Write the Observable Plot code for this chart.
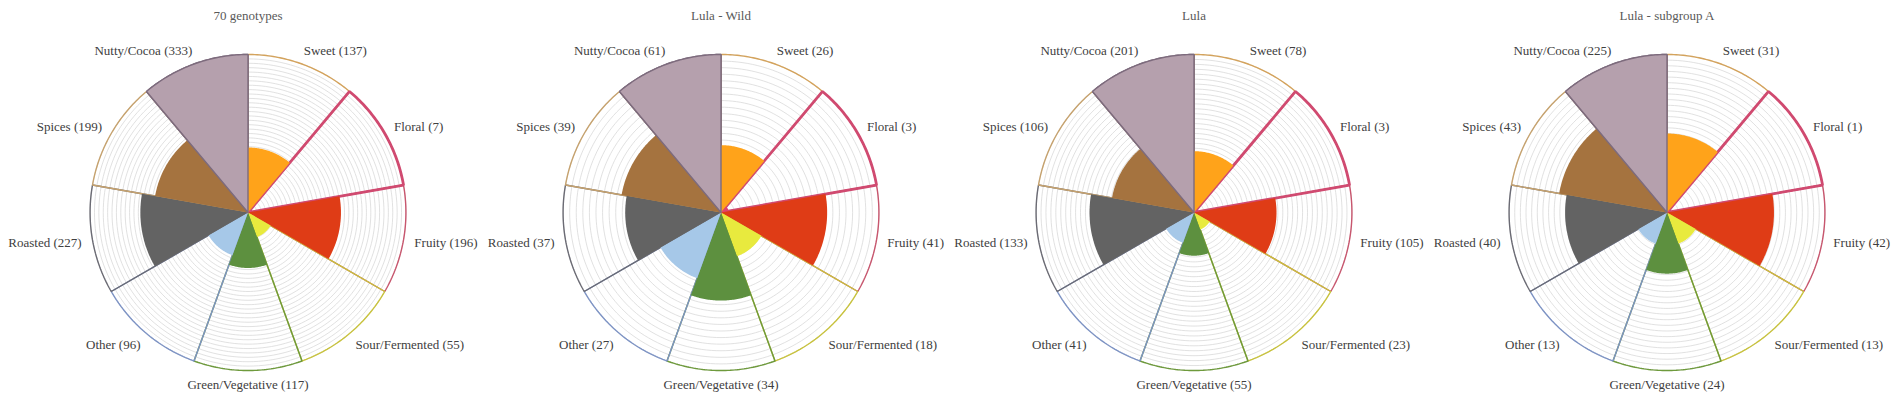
<!DOCTYPE html>
<html>
<head>
<meta charset="utf-8">
<script src="https://cdn.jsdelivr.net/npm/d3@7"></script>
<script src="https://cdn.jsdelivr.net/npm/@observablehq/plot@0.6"></script>
<style>
  html, body { margin: 0; padding: 0; background: #ffffff; }
  #chart { width: 1903px; height: 401px; }
  #chart svg text { font-family: 'Liberation Serif', 'Times New Roman', serif !important; }
</style>
</head>
<body>
<div id="chart"></div>
<script>
// ---- data ----
const charts = ["70 genotypes", "Lula - Wild", "Lula", "Lula - subgroup A"];
const categories = ["Sweet", "Floral", "Fruity", "Sour/Fermented", "Green/Vegetative", "Other", "Roasted", "Spices", "Nutty/Cocoa"];
const genotypes70 = [137, 7, 196, 55, 117, 96, 227, 199, 333];
const lulaWild = [26, 3, 41, 18, 34, 27, 37, 39, 61];
const lula = [78, 3, 105, 23, 55, 41, 133, 106, 201];
const lulaSubgroupA = [31, 1, 42, 13, 24, 13, 40, 43, 225];
const seriesValues = [genotypes70, lulaWild, lula, lulaSubgroupA];
const scaleMax = [333, 61, 201, 62];      // radial axis maximum of each chart
const ringCounts = [36, 24, 32, 28];      // number of concentric gridlines per chart
const fillColors = ["#ffa31a", "#e0446e", "#df3c16", "#e8ea3e", "#5d903f", "#a6c8e8", "#636363", "#a5733f", "#b5a0ad"];
const borderColors = ["#d4a35c", "#d04a70", "#c8566e", "#c8c23c", "#6e9a3c", "#7d93c4", "#6b6b74", "#c6a26e", "#7d6b7d"];

// ---- layout constants ----
const W = 1903, H = 401, ML = 10;
const R = 158;                  // outer radius in px
const CY = 212;                 // centre y in px
const FW = (W - ML) / 4;        // facet width
const xHalf = FW / 2 / R;
const yTop = CY / R, yBot = (H - CY) / R;

const nCat = categories.length;
const sector = 360 / nCat;
const rad = Math.PI / 180;

function wedgePoints(chart, i, r, key) {
  const a0 = i * sector, a1 = (i + 1) * sector, n = 48;
  const pts = [{chart, key, i, x: 0, y: 0}];
  for (let k = 0; k <= n; k++) {
    const a = (a0 + (a1 - a0) * k / n) * rad;
    pts.push({chart, key, i, x: r * Math.sin(a), y: r * Math.cos(a)});
  }
  pts.push({chart, key, i, x: 0, y: 0});
  return pts;
}

const rings = [], outlines = [], fills = [], fullOutlines = [], labels = [];
charts.forEach((chart, c) => {
  const N = ringCounts[c];
  for (let k = 1; k <= N; k++) {
    const r = k / N;
    for (let j = 0; j <= 180; j++) {
      const a = j * 2 * rad;
      rings.push({chart, key: chart + k, x: r * Math.sin(a), y: r * Math.cos(a)});
    }
  }
  categories.forEach((cat, i) => {
    const v = seriesValues[c][i];
    const r = Math.min(v / scaleMax[c], 1);
    outlines.push(...wedgePoints(chart, i, 1, chart + "o" + i));
    fills.push(...wedgePoints(chart, i, r, chart + "f" + i));
    if (r >= 1) fullOutlines.push(...wedgePoints(chart, i, 1, chart + "u" + i));
    const mid = (i + 0.5) * sector;
    const lr = 1.09;
    labels.push({
      chart, text: `${cat} (${v})`, mid,
      x: lr * Math.sin(mid * rad) - (mid > 0 && mid < 180 ? 0.02 : (mid > 180 ? -0.02 : 0)),
      y: lr * Math.cos(mid * rad)
    });
  });
});

const font = "'Liberation Serif', 'Times New Roman', serif";

const plot = Plot.plot({
  width: W, height: H,
  marginLeft: ML, marginRight: 0, marginTop: 0, marginBottom: 0,
  style: {fontFamily: font, background: "#ffffff"},
  fx: {domain: charts, padding: 0, axis: null},
  x: {domain: [-xHalf, xHalf], axis: null},
  y: {domain: [-yBot, yTop], axis: null},
  color: {type: "identity"},
  marks: [
    Plot.line(rings, {fx: "chart", x: "x", y: "y", z: "key", stroke: "#d4d4d4", strokeWidth: 0.7}),
    Plot.line(outlines, {fx: "chart", x: "x", y: "y", z: "key",
      stroke: d => borderColors[d.i],
      strokeWidth: 1.4,
      strokeLinejoin: "miter"}),
    Plot.line(outlines.filter(d => d.i === 1), {fx: "chart", x: "x", y: "y", z: "key",
      stroke: borderColors[1], strokeWidth: 2.8, strokeLinejoin: "miter"}),
    Plot.line(fills, {fx: "chart", x: "x", y: "y", z: "key", fill: d => fillColors[d.i], stroke: "none"}),
    Plot.line(fullOutlines, {fx: "chart", x: "x", y: "y", z: "key",
      stroke: d => borderColors[d.i], strokeWidth: 1.4, strokeLinejoin: "miter"}),
    Plot.text(labels.filter(d => d.mid < 180), {fx: "chart", x: "x", y: "y", text: "text",
      textAnchor: "start", fontSize: 13, fontFamily: font, fill: "#404040"}),
    Plot.text(labels.filter(d => d.mid === 180), {fx: "chart", x: "x", y: "y", text: "text",
      textAnchor: "middle", fontSize: 13, fontFamily: font, fill: "#404040"}),
    Plot.text(labels.filter(d => d.mid > 180), {fx: "chart", x: "x", y: "y", text: "text",
      textAnchor: "end", fontSize: 13, fontFamily: font, fill: "#404040"}),
    Plot.text(charts, {fx: d => d, x: () => 0, y: () => (CY - 15) / R, text: d => d,
      fontSize: 13, fontFamily: font, fill: "#595959"})
  ]
});
document.getElementById("chart").appendChild(plot);
</script>
</body>
</html>
